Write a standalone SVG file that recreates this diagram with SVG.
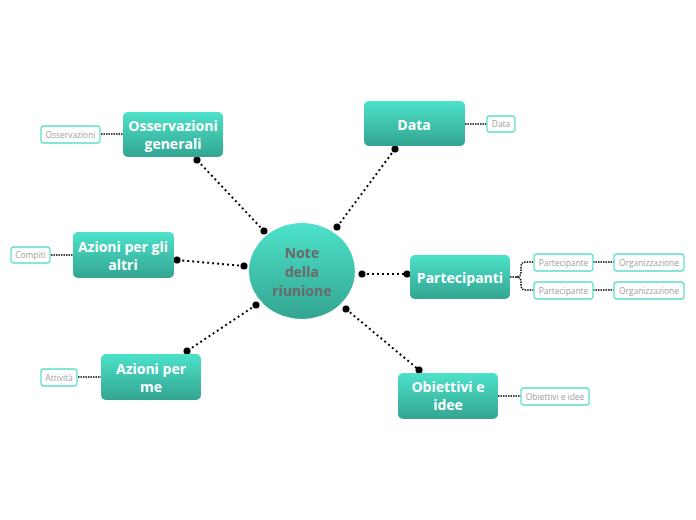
<svg xmlns="http://www.w3.org/2000/svg" width="696" height="520" viewBox="0 0 696 520">
<defs>
<linearGradient id="g" x1="0" y1="0" x2="0" y2="1">
<stop offset="0" stop-color="#4de2ca"/>
<stop offset="1" stop-color="#33a592"/>
</linearGradient>
</defs>
<style>
.main{fill:url(#g)}
.mt{font-family:"Open Sans",sans-serif;font-weight:bold;font-size:14px;fill:#fff;text-anchor:middle}
.ct{font-family:"Open Sans",sans-serif;font-weight:bold;font-size:14px;fill:#6a6a6a;text-anchor:middle}
.sb{fill:#fff;stroke:#5fe0c9;stroke-width:1.3}
.st{font-family:"Open Sans",sans-serif;font-size:8.4px;fill:#a0a0a0;text-anchor:middle}
.c{stroke:#000;stroke-width:2;stroke-dasharray:2 3;fill:none}
.s{stroke:#000;stroke-width:1.5;stroke-dasharray:1.5 1;fill:none}
.d{fill:#000}
</style>
<rect width="696" height="520" fill="#fff"/>
<g id="connectors">
<line class="c" x1="264" y1="231" x2="197" y2="160"/>
<line class="c" x1="337" y1="227" x2="395" y2="149"/>
<line class="c" x1="244" y1="266" x2="177" y2="260"/>
<line class="c" x1="362" y1="274" x2="407" y2="274"/>
<line class="c" x1="256" y1="305" x2="187" y2="351"/>
<line class="c" x1="346" y1="309" x2="419" y2="370"/>
<circle class="d" cx="264" cy="231" r="3.5"/><circle class="d" cx="197" cy="160" r="3.5"/>
<circle class="d" cx="337" cy="227" r="3.5"/><circle class="d" cx="395" cy="149" r="3.5"/>
<circle class="d" cx="244" cy="266" r="3.5"/><circle class="d" cx="177" cy="260" r="3.5"/>
<circle class="d" cx="362" cy="274" r="3.5"/><circle class="d" cx="407" cy="274" r="3.5"/>
<circle class="d" cx="256" cy="305" r="3.5"/><circle class="d" cx="187" cy="351" r="3.5"/>
<circle class="d" cx="346" cy="309" r="3.5"/><circle class="d" cx="419" cy="370" r="3.5"/>
<line class="s" x1="101" y1="134" x2="123" y2="134"/>
<line class="s" x1="465" y1="124" x2="487" y2="124"/>
<line class="s" x1="51" y1="255" x2="73" y2="255"/>
<line class="s" x1="78" y1="377" x2="101" y2="377"/>
<line class="s" x1="498" y1="396" x2="521" y2="396"/>
<path class="s" d="M510 277 H516 Q521 277 521 272 V267 Q521 262 526 262 H534 M516 277 Q521 277 521 282 V285 Q521 290 526 290 H534"/>
<line class="s" x1="593" y1="262" x2="614" y2="262"/>
<line class="s" x1="593" y1="290" x2="614" y2="290"/>
</g>
<g id="center">
<ellipse class="main" cx="302" cy="271" rx="53" ry="48"/>
<text class="ct" x="302" y="258">Note</text>
<text class="ct" x="302" y="277">della</text>
<text class="ct" x="302" y="296">riunione</text>
</g>
<g id="osservazioni-generali">
<rect class="main" x="123" y="112" width="100" height="45" rx="5"/>
<text class="mt" x="173" y="131">Osservazioni</text>
<text class="mt" x="173" y="149">generali</text>
</g>
<g id="data">
<rect class="main" x="364" y="101" width="101" height="45" rx="5"/>
<text class="mt" x="414" y="130">Data</text>
</g>
<g id="azioni-altri">
<rect class="main" x="73" y="232" width="101" height="46" rx="5"/>
<text class="mt" x="123" y="252">Azioni per gli</text>
<text class="mt" x="123" y="270">altri</text>
</g>
<g id="partecipanti">
<rect class="main" x="410" y="255" width="100" height="44" rx="5"/>
<text class="mt" x="460" y="283">Partecipanti</text>
</g>
<g id="azioni-me">
<rect class="main" x="101" y="354" width="100" height="46" rx="5"/>
<text class="mt" x="151" y="374">Azioni per</text>
<text class="mt" x="151" y="392">me</text>
</g>
<g id="obiettivi">
<rect class="main" x="398" y="373" width="100" height="46" rx="5"/>
<text class="mt" x="448" y="392">Obiettivi e</text>
<text class="mt" x="448" y="410">idee</text>
</g>
<g id="s-osservazioni">
<rect class="sb" x="41" y="126" width="59" height="17" rx="3"/>
<text class="st" x="70.5" y="137.5">Osservazioni</text>
</g>
<g id="s-data">
<rect class="sb" x="487" y="116" width="28" height="16" rx="3"/>
<text class="st" x="501" y="127">Data</text>
</g>
<g id="s-compiti">
<rect class="sb" x="11" y="247" width="39" height="16" rx="3"/>
<text class="st" x="30.5" y="258">Compiti</text>
</g>
<g id="s-partecipante1">
<rect class="sb" x="534" y="254" width="59" height="17" rx="3"/>
<text class="st" x="563.5" y="265.5">Partecipante</text>
</g>
<g id="s-partecipante2">
<rect class="sb" x="534" y="282" width="59" height="17" rx="3"/>
<text class="st" x="563.5" y="293.5">Partecipante</text>
</g>
<g id="s-organizzazione1">
<rect class="sb" x="614" y="254" width="70" height="17" rx="3"/>
<text class="st" x="649" y="265.5">Organizzazione</text>
</g>
<g id="s-organizzazione2">
<rect class="sb" x="614" y="282" width="70" height="17" rx="3"/>
<text class="st" x="649" y="293.5">Organizzazione</text>
</g>
<g id="s-attivita">
<rect class="sb" x="41" y="369" width="36" height="17" rx="3"/>
<text class="st" x="59" y="380.5">Attività</text>
</g>
<g id="s-obiettivi">
<rect class="sb" x="521" y="388" width="68" height="17" rx="3"/>
<text class="st" x="555" y="399.5">Obiettivi e idee</text>
</g>
</svg>
